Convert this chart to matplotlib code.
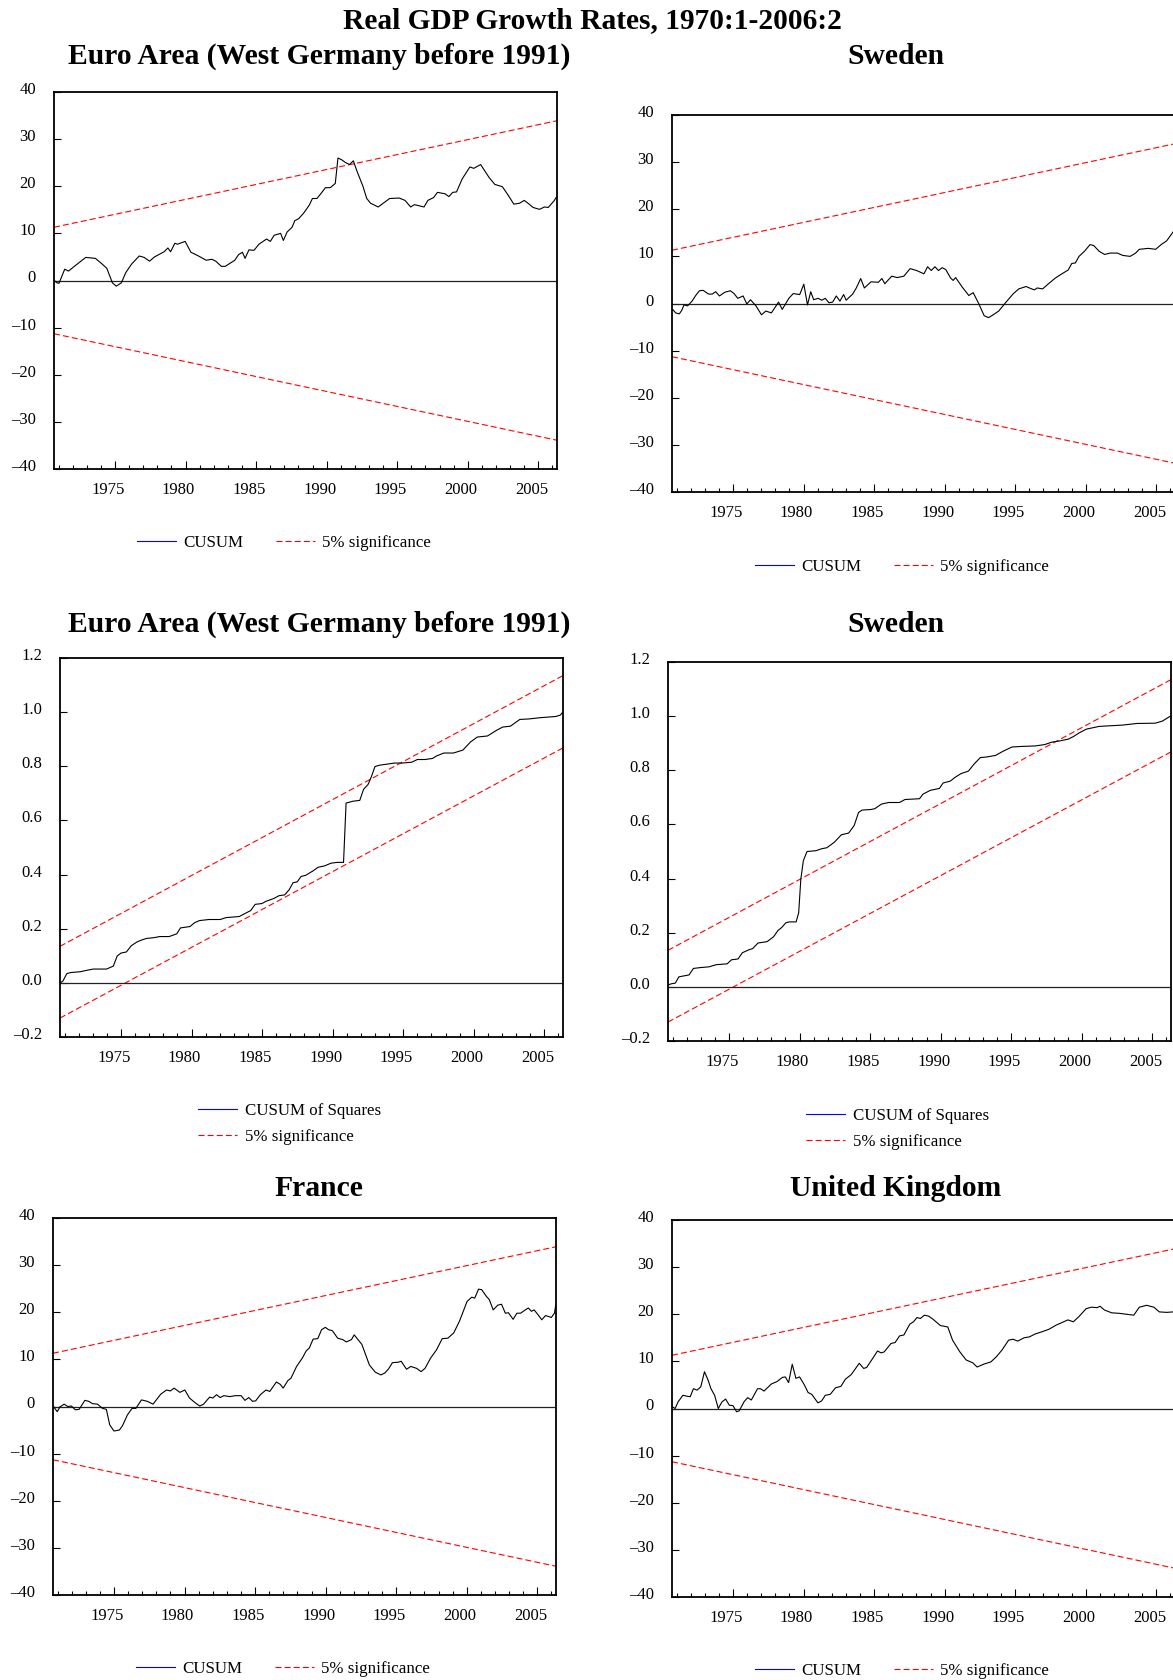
import matplotlib.pyplot as plt
import matplotlib.transforms as mtransforms
from matplotlib.lines import Line2D
from matplotlib.ticker import FixedLocator, FuncFormatter

plt.rcParams['font.family'] = ['Liberation Serif', 'DejaVu Serif']

W, H, DPI = 1173, 1680, 100

# ---------------------------------------------------------------- data
euro_years = [1970.70, 1970.90, 1971.03, 1971.44, 1971.71, 1972.12, 1972.93, 1973.61, 1974.01,
              1974.42, 1974.82, 1975.09, 1975.45, 1975.77, 1976.18, 1976.72, 1977.07, 1977.45,
              1977.80, 1978.48, 1978.75, 1978.94, 1979.24, 1979.43, 1979.97, 1980.38, 1980.92,
              1981.46, 1981.87, 1982.14, 1982.54, 1982.81, 1983.49, 1983.76, 1984.03, 1984.22,
              1984.49, 1984.85, 1985.20, 1985.74, 1986.01, 1986.28, 1986.74, 1986.93, 1987.20,
              1987.55, 1987.74, 1988.01, 1988.37, 1988.77, 1988.99, 1989.31, 1989.66, 1989.91,
              1990.26, 1990.61, 1990.80, 1991.07, 1991.35, 1991.62, 1991.89, 1992.16, 1992.57,
              1992.84, 1993.11, 1993.65, 1993.92, 1994.46, 1995.14, 1995.55, 1995.95, 1996.22,
              1996.49, 1996.90, 1997.17, 1997.58, 1997.85, 1998.39, 1998.66, 1998.93, 1999.20,
              1999.61, 2000.15, 2000.42, 2000.91, 2001.50, 2001.91, 2002.45, 2002.86, 2003.26,
              2003.67, 2004.00, 2004.35, 2004.62, 2005.08, 2005.43, 2005.70, 2006.11, 2006.30]
euro_cusum = [0.0, -0.5, -0.6, 2.4, 2.0, 3.0, 4.9, 4.7, 3.7,
              2.6, -0.5, -1.2, -0.5, 1.7, 3.5, 5.2, 4.9, 4.1,
              5.0, 6.1, 6.9, 6.1, 7.9, 7.7, 8.3, 6.0, 5.2,
              4.3, 4.5, 4.1, 3.0, 3.0, 4.3, 5.5, 6.0, 4.7,
              6.5, 6.4, 7.7, 8.8, 8.3, 9.6, 10.0, 8.5, 10.3,
              11.3, 12.7, 13.1, 14.3, 16.0, 17.4, 17.4, 18.7, 19.7,
              19.7, 20.6, 26.0, 25.6, 25.0, 24.6, 25.4, 23.1, 20.0,
              17.4, 16.4, 15.6, 16.2, 17.4, 17.5, 17.0, 15.6, 16.1,
              15.9, 15.6, 17.0, 17.6, 18.7, 18.4, 17.8, 18.7, 18.8,
              21.6, 24.1, 23.8, 24.6, 21.9, 20.4, 19.9, 18.1, 16.2,
              16.4, 17.0, 16.2, 15.5, 15.1, 15.6, 15.5, 16.9, 17.8]

sweden_years = [1970.73, 1970.94, 1971.20, 1971.38, 1971.53, 1971.79, 1972.10, 1972.36, 1972.62,
                1972.88, 1973.27, 1973.53, 1973.78, 1974.04, 1974.43, 1974.82, 1975.08, 1975.34,
                1975.72, 1975.98, 1976.24, 1976.63, 1977.02, 1977.33, 1977.72, 1978.23, 1978.49,
                1978.96, 1979.27, 1979.73, 1980.02, 1980.28, 1980.51, 1980.72, 1981.03, 1981.29,
                1981.54, 1981.80, 1982.06, 1982.32, 1982.58, 1982.84, 1983.02, 1983.48, 1983.74,
                1984.05, 1984.31, 1984.78, 1985.30, 1985.55, 1985.76, 1986.25, 1986.64, 1987.11,
                1987.55, 1988.01, 1988.53, 1988.79, 1989.05, 1989.31, 1989.56, 1989.82, 1990.08,
                1990.42, 1990.60, 1990.78, 1991.24, 1991.71, 1992.02, 1992.41, 1992.80, 1993.11,
                1993.44, 1993.83, 1994.35, 1994.87, 1995.25, 1995.77, 1996.16, 1996.37, 1996.55,
                1996.94, 1997.32, 1997.84, 1998.36, 1998.75, 1999.01, 1999.26, 1999.52, 1999.91,
                2000.30, 2000.56, 2000.94, 2001.33, 2001.72, 2002.24, 2002.62, 2003.14, 2003.53,
                2003.79, 2004.43, 2004.95, 2005.34, 2005.73, 2006.19, 2006.30]
sweden_cusum = [-1.25, -2.0, -2.2, -1.4, -0.3, -0.5, 0.5, 1.7, 2.7,
                2.8, 2.0, 2.0, 2.5, 1.6, 2.4, 2.7, 2.1, 1.1,
                1.6, -0.1, 0.8, -0.5, -2.4, -1.6, -2.0, 0.3, -1.25,
                1.1, 2.1, 1.9, 4.1, -0.3, 2.5, 0.8, 1.1, 0.7,
                1.1, 0.15, 0.3, 1.6, 0.5, 1.9, 0.7, 2.0, 3.3,
                5.3, 3.3, 4.6, 4.5, 5.3, 4.2, 5.8, 5.5, 5.8,
                7.4, 7.0, 6.3, 7.8, 7.0, 7.8, 7.0, 7.6, 7.2,
                5.4, 4.9, 5.5, 3.5, 1.7, 2.3, 0.0, -2.6, -3.0,
                -2.4, -1.6, 0.3, 2.1, 3.1, 3.6, 3.1, 2.9, 3.3,
                3.1, 4.1, 5.4, 6.4, 7.1, 8.5, 8.6, 10.0, 11.1,
                12.5, 12.3, 11.1, 10.4, 10.7, 10.7, 10.2, 10.0, 10.7,
                11.5, 11.7, 11.5, 12.5, 13.3, 15.2, 15.9]

euro_sq_years = [1970.70, 1970.89, 1971.16, 1971.43, 1972.10, 1972.64, 1973.04, 1973.98, 1974.46,
                 1974.73, 1975.00, 1975.38, 1975.73, 1976.13, 1976.45, 1976.80, 1977.34, 1977.74,
                 1978.41, 1978.95, 1979.22, 1979.89, 1980.21, 1980.56, 1981.23, 1982.04, 1982.44,
                 1983.38, 1983.78, 1984.19, 1984.51, 1984.99, 1985.26, 1985.80, 1986.20, 1986.60,
                 1986.93, 1987.19, 1987.49, 1987.76, 1988.08, 1988.62, 1988.97, 1989.42, 1989.88,
                 1990.31, 1990.77, 1990.95, 1991.44, 1991.92, 1992.19, 1992.51, 1992.73, 1993.00,
                 1993.32, 1993.86, 1994.39, 1994.93, 1995.60, 1996.00, 1996.54, 1997.08, 1997.35,
                 1997.88, 1998.56, 1999.23, 1999.77, 2000.25, 2000.97, 2001.65, 2002.05, 2002.59,
                 2003.26, 2003.93, 2004.60, 2005.81, 2006.13, 2006.30]
euro_cusumsq = [0.0, 0.007, 0.034, 0.038, 0.041, 0.047, 0.051, 0.051, 0.062,
                0.099, 0.110, 0.114, 0.137, 0.151, 0.158, 0.164, 0.167, 0.171,
                0.171, 0.181, 0.203, 0.208, 0.222, 0.230, 0.234, 0.234, 0.241,
                0.245, 0.256, 0.267, 0.290, 0.293, 0.301, 0.311, 0.322, 0.325,
                0.345, 0.370, 0.373, 0.393, 0.397, 0.414, 0.427, 0.432, 0.442,
                0.445, 0.445, 0.664, 0.671, 0.674, 0.715, 0.733, 0.760, 0.799,
                0.804, 0.808, 0.812, 0.812, 0.815, 0.825, 0.825, 0.829, 0.838,
                0.849, 0.849, 0.860, 0.890, 0.908, 0.912, 0.934, 0.945, 0.948,
                0.973, 0.975, 0.979, 0.984, 0.989, 1.0]

sweden_sq_years = [1970.70, 1970.89, 1971.20, 1971.45, 1972.17, 1972.48, 1972.94, 1973.59, 1974.10,
                   1974.87, 1975.18, 1975.64, 1975.95, 1976.41, 1976.67, 1977.06, 1977.70, 1978.16,
                   1978.47, 1978.73, 1979.04, 1979.29, 1979.76, 1979.94, 1980.09, 1980.27, 1980.53,
                   1981.17, 1981.56, 1981.94, 1982.46, 1982.97, 1983.48, 1983.87, 1984.18, 1984.43,
                   1985.03, 1985.33, 1985.80, 1986.31, 1987.08, 1987.47, 1988.50, 1988.75, 1989.27,
                   1989.91, 1990.17, 1990.68, 1991.02, 1991.45, 1991.97, 1992.35, 1992.81, 1993.25,
                   1993.89, 1994.41, 1995.05, 1995.69, 1996.72, 1997.37, 1997.88, 1998.39, 1999.04,
                   1999.42, 1999.81, 2000.32, 2001.22, 2001.86, 2002.89, 2003.92, 2005.21, 2005.72,
                   2006.18, 2006.30]
sweden_cusumsq = [0.007, 0.011, 0.014, 0.037, 0.044, 0.068, 0.071, 0.074, 0.082,
                  0.085, 0.100, 0.103, 0.126, 0.137, 0.141, 0.162, 0.167, 0.185,
                  0.208, 0.219, 0.237, 0.240, 0.240, 0.274, 0.397, 0.466, 0.500,
                  0.503, 0.510, 0.514, 0.534, 0.562, 0.568, 0.596, 0.644, 0.653,
                  0.655, 0.658, 0.675, 0.681, 0.681, 0.692, 0.695, 0.712, 0.726,
                  0.733, 0.753, 0.760, 0.774, 0.788, 0.797, 0.822, 0.847, 0.849,
                  0.855, 0.870, 0.886, 0.888, 0.890, 0.895, 0.904, 0.908, 0.915,
                  0.925, 0.938, 0.952, 0.962, 0.964, 0.967, 0.973, 0.974, 0.982,
                  0.997, 1.0]

france_years = [1970.71, 1970.98, 1971.17, 1971.47, 1971.72, 1971.99, 1972.26, 1972.53, 1972.94,
                1973.21, 1973.48, 1973.83, 1974.19, 1974.46, 1974.70, 1975.00, 1975.38, 1975.60,
                1975.95, 1976.28, 1976.55, 1976.95, 1977.36, 1977.77, 1978.31, 1978.72, 1978.99,
                1979.26, 1979.67, 1980.02, 1980.35, 1980.75, 1981.08, 1981.35, 1981.78, 1982.00,
                1982.27, 1982.52, 1982.79, 1983.20, 1983.60, 1984.01, 1984.28, 1984.55, 1984.82,
                1985.04, 1985.37, 1985.77, 1986.04, 1986.51, 1986.78, 1986.99, 1987.32, 1987.54,
                1987.94, 1988.35, 1988.62, 1988.84, 1989.11, 1989.44, 1989.71, 1989.98, 1990.20,
                1990.47, 1990.85, 1991.20, 1991.47, 1991.83, 1992.02, 1992.29, 1992.56, 1992.83,
                1993.10, 1993.51, 1993.91, 1994.19, 1994.46, 1994.73, 1995.14, 1995.35, 1995.73,
                1996.03, 1996.44, 1996.76, 1997.04, 1997.44, 1997.85, 1998.26, 1998.66, 1999.07,
                1999.48, 1999.75, 2000.02, 2000.35, 2000.56, 2000.83, 2001.05, 2001.38, 2001.59,
                2001.87, 2002.19, 2002.46, 2002.73, 2002.95, 2003.28, 2003.55, 2003.82, 2004.09,
                2004.36, 2004.58, 2004.77, 2005.04, 2005.31, 2005.58, 2005.99, 2006.21, 2006.30]
france_cusum = [0.0, -1.1, -0.1, 0.5, 0.0, 0.1, -0.7, -0.6, 1.3,
                1.1, 0.6, 0.5, -0.4, -0.6, -3.9, -5.2, -5.0, -4.1,
                -1.8, -0.4, -0.4, 1.4, 1.1, 0.5, 2.6, 3.5, 3.3,
                3.9, 3.0, 3.5, 1.8, 0.8, 0.1, 0.5, 2.0, 1.8,
                2.5, 1.9, 2.3, 2.1, 2.3, 2.3, 1.3, 1.9, 1.1,
                1.2, 2.5, 3.5, 3.2, 5.2, 4.7, 3.9, 5.5, 6.0,
                8.5, 10.3, 11.8, 12.4, 14.3, 14.4, 16.3, 16.8, 16.3,
                16.1, 14.5, 14.2, 13.7, 14.2, 15.2, 14.2, 13.2, 11.0,
                8.8, 7.3, 6.7, 7.1, 8.0, 9.3, 9.4, 9.6, 7.9,
                8.5, 8.1, 7.4, 8.1, 10.3, 12.0, 14.4, 14.5, 15.6,
                18.1, 20.2, 22.3, 23.2, 23.0, 24.9, 24.8, 23.4, 22.7,
                20.5, 21.5, 21.7, 19.8, 19.9, 18.5, 19.8, 19.8, 20.4,
                20.9, 20.2, 20.5, 19.5, 18.4, 19.3, 18.9, 19.8, 21.5]

uk_years = [1970.72, 1970.90, 1971.11, 1971.45, 1971.76, 1971.97, 1972.20, 1972.46, 1972.72,
            1972.98, 1973.24, 1973.44, 1973.70, 1973.96, 1974.22, 1974.48, 1974.74, 1975.00,
            1975.26, 1975.44, 1975.78, 1976.04, 1976.30, 1976.74, 1976.95, 1977.20, 1977.72,
            1978.11, 1978.50, 1978.71, 1978.94, 1979.20, 1979.46, 1979.72, 1980.06, 1980.32,
            1980.58, 1981.02, 1981.28, 1981.54, 1981.89, 1982.27, 1982.65, 1982.96, 1983.38,
            1983.95, 1984.26, 1984.47, 1984.85, 1985.24, 1985.50, 1985.71, 1986.20, 1986.49,
            1986.80, 1987.11, 1987.53, 1987.79, 1988.04, 1988.28, 1988.56, 1988.87, 1989.19,
            1989.70, 1990.22, 1990.56, 1991.08, 1991.52, 1991.99, 1992.30, 1992.76, 1993.28,
            1993.67, 1994.06, 1994.53, 1994.84, 1995.18, 1995.62, 1996.01, 1996.40, 1996.91,
            1997.38, 1997.90, 1998.21, 1998.73, 1999.12, 1999.51, 2000.03, 2000.41, 2000.80,
            2001.01, 2001.32, 2001.84, 2002.36, 2002.88, 2003.40, 2003.79, 2004.31, 2004.82,
            2005.21, 2005.73, 2006.20, 2006.30]
uk_cusum = [0.35, 0.0, 1.4, 2.8, 2.6, 2.5, 4.2, 3.9, 4.6,
            7.8, 6.0, 4.2, 2.8, 0.0, 1.4, 2.0, 0.7, 0.6,
            -0.7, -0.5, 1.4, 2.3, 1.8, 4.2, 4.2, 3.7, 5.2,
            5.7, 6.6, 6.7, 5.5, 9.4, 6.4, 6.7, 5.0, 3.4,
            3.0, 1.2, 1.6, 2.8, 3.0, 4.4, 4.7, 6.2, 7.2,
            9.6, 8.5, 8.7, 10.4, 12.2, 11.8, 12.0, 13.8, 14.0,
            15.4, 15.6, 17.9, 18.4, 19.3, 19.1, 19.8, 19.6, 18.9,
            17.6, 17.3, 14.5, 12.0, 10.3, 9.7, 8.8, 9.4, 9.9,
            11.0, 12.4, 14.5, 14.7, 14.3, 15.0, 15.2, 15.8, 16.3,
            16.8, 17.7, 18.1, 18.8, 18.4, 19.5, 21.2, 21.5, 21.4,
            21.7, 20.9, 20.3, 20.2, 20.0, 19.8, 21.5, 21.9, 21.5,
            20.5, 20.4, 20.5, 20.6]

# 5% significance bounds at the first and last observation
bound_years = [1970.68, 2006.32]
cusum_upper = [11.3, 33.9]
cusum_lower = [-11.3, -33.9]
cusumsq_upper = [0.135, 1.135]
cusumsq_lower = [-0.13, 0.868]

cusum_yticks = [-40, -30, -20, -10, 0, 10, 20, 30, 40]
cusumsq_yticks = [-0.2, 0.0, 0.2, 0.4, 0.6, 0.8, 1.0, 1.2]
year_ticks = [1975, 1980, 1985, 1990, 1995, 2000, 2005]
year_minor = list(range(1971, 2007))

fig = plt.figure(figsize=(W / DPI, H / DPI), dpi=DPI)
fig.patch.set_facecolor('white')


def fx(px):
    return px / W


def fy(py):
    return 1 - py / H


def minus(s):
    return s.replace('-', '\u2013')


def panel(left, top, title, title_x, title_y, years, values, upper, lower,
          yticks, ylim, fmt, labels, leg_x, leg_y, ncol, width=503, height=377):
    ax = fig.add_axes([fx(left), fy(top + height), width / W, height / H])
    ax.plot(bound_years, upper, color='#ff0000', lw=0.8, dashes=(5.4, 2.8))
    ax.plot(bound_years, lower, color='#ff0000', lw=0.8, dashes=(5.4, 2.8))
    ax.axhline(0, color='#222222', lw=0.9)
    ax.plot(years, values, color='black', lw=0.8)

    ax.set_xlim(bound_years[0], bound_years[1])
    ax.set_ylim(*ylim)
    ax.xaxis.set_major_locator(FixedLocator(year_ticks))
    ax.xaxis.set_minor_locator(FixedLocator(year_minor))
    ax.yaxis.set_major_locator(FixedLocator(yticks))
    ax.yaxis.set_major_formatter(FuncFormatter(lambda v, p: minus(fmt % v)))
    ax.tick_params(axis='x', which='major', direction='in', length=5.5, width=0.8,
                   labelsize=12, pad=9)
    ax.tick_params(axis='x', which='minor', direction='in', length=3, width=0.8)
    ax.tick_params(axis='y', direction='in', length=5, width=0.8, labelsize=12, pad=13)
    for s in ax.spines.values():
        s.set_linewidth(1.3)

    shift_x = mtransforms.ScaledTranslation(-7 / DPI, 0, fig.dpi_scale_trans)
    for lab in ax.get_xticklabels():
        lab.set_transform(lab.get_transform() + shift_x)
    shift_y = mtransforms.ScaledTranslation(0, 4 / DPI, fig.dpi_scale_trans)
    for lab in ax.get_yticklabels():
        lab.set_transform(lab.get_transform() + shift_y)

    fig.text(fx(title_x), fy(title_y), title, ha='center', va='center',
             fontsize=21.3, fontweight='bold')

    handles = [Line2D([], [], color='#0000ff', lw=0.8),
               Line2D([], [], color='#ff0000', lw=0.8, dashes=(5.4, 2.8))]
    ax.legend(handles, labels, loc='center left', bbox_to_anchor=(fx(leg_x), fy(leg_y)),
              bbox_transform=fig.transFigure, ncol=ncol, frameon=False, fontsize=12.2,
              borderpad=0, borderaxespad=0, handlelength=2.3, handletextpad=0.45,
              columnspacing=1.9, labelspacing=0.57)
    return ax


fig.text(fx(592), fy(21), 'Real GDP Growth Rates, 1970:1-2006:2', ha='center', va='center',
         fontsize=21.2, fontweight='bold')

euro_title = 'Euro Area (West Germany before 1991)'
cusum_labels = ['CUSUM', '5% significance']
cusumsq_labels = ['CUSUM of Squares', '5% significance']

panel(54, 92, euro_title, 319, 56, euro_years, euro_cusum, cusum_upper, cusum_lower,
      cusum_yticks, (-40, 40), '%d', cusum_labels, 137, 543, 2)
panel(672, 115, 'Sweden', 895.5, 56, sweden_years, sweden_cusum, cusum_upper, cusum_lower,
      cusum_yticks, (-40, 40), '%d', cusum_labels, 755, 567, 2)

panel(60, 658, euro_title, 319, 624, euro_sq_years, euro_cusumsq, cusumsq_upper, cusumsq_lower,
      cusumsq_yticks, (-0.2, 1.2), '%.1f', cusumsq_labels, 198, 1124, 1, height=379)
panel(668, 662, 'Sweden', 895.5, 624, sweden_sq_years, sweden_cusumsq, cusumsq_upper,
      cusumsq_lower, cusumsq_yticks, (-0.2, 1.2), '%.1f', cusumsq_labels, 806, 1129, 1, height=379)

panel(53, 1218, 'France', 319, 1189, france_years, france_cusum, cusum_upper, cusum_lower,
      cusum_yticks, (-40, 40), '%d', cusum_labels, 136, 1669, 2)
panel(672, 1220, 'United Kingdom', 895.5, 1189, uk_years, uk_cusum, cusum_upper, cusum_lower,
      cusum_yticks, (-40, 40), '%d', cusum_labels, 755, 1671, 2)

fig.savefig('out.png', dpi=DPI)
